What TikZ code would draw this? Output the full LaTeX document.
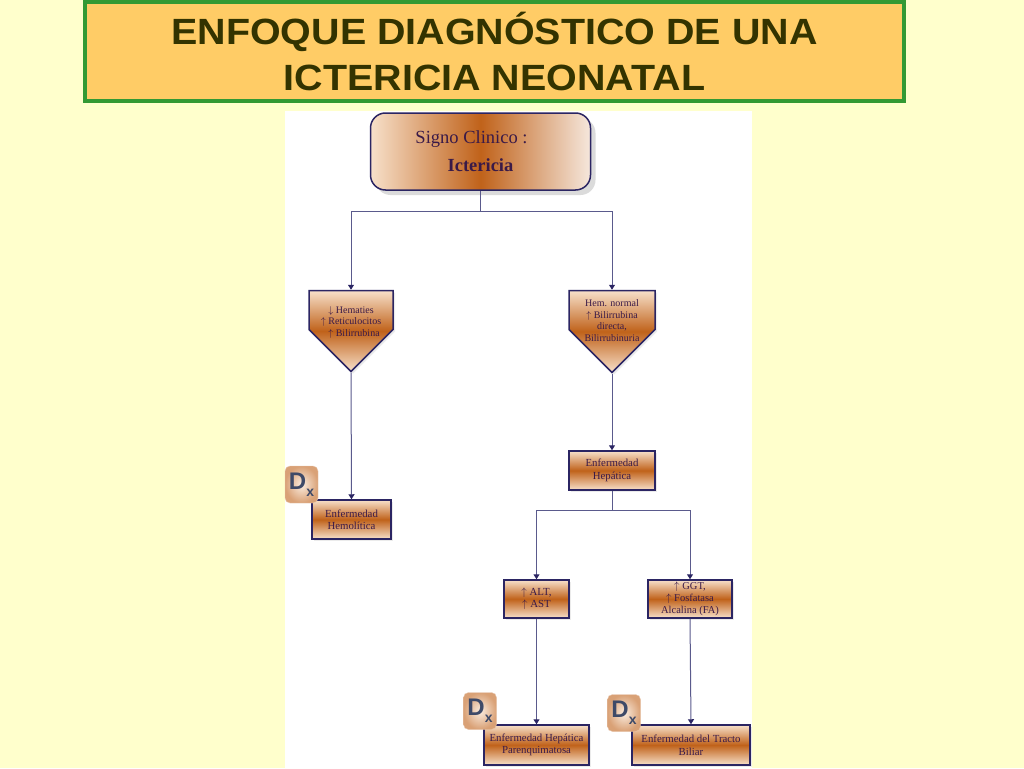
\documentclass[tikz,border=0pt]{standalone}
\usepackage{fontspec}
\setmainfont{Liberation Serif}
\newfontfamily\titlefont[FakeStretch=1.08]{Liberation Sans}
\newfontfamily\dxfont{Liberation Sans}
\usetikzlibrary{shapes.symbols,arrows.meta,shadows}

\definecolor{fondo}{HTML}{FFFFCC}
\definecolor{marco}{HTML}{339933}
\definecolor{titulo}{HTML}{FFCC66}
\definecolor{letra}{HTML}{333300}
\definecolor{borde}{HTML}{2B2563}
\definecolor{linea}{HTML}{5A5A8C}
\definecolor{cafe}{HTML}{C0621A}
\definecolor{claro}{HTML}{F7E0CA}
\definecolor{texto}{HTML}{3A1A48}
\definecolor{dxletra}{HTML}{3E4A68}

\begin{document}
\begin{tikzpicture}[x=1pt,y=-1pt,
    conector/.style={draw=linea, line width=1pt},
    flecha/.style={conector, -{Triangle[length=5pt,width=6pt,color=borde]}},
    caja/.style={draw=borde, line width=1.5pt, top color=claro, bottom color=claro,
        middle color=cafe, minimum height=39, inner sep=1pt, align=center,
        text=texto, font=\fontsize{10.8}{12.5}\selectfont,
        drop shadow={shadow xshift=2pt, shadow yshift=-2pt, fill=gray!30}},
    pentagono/.style={caja, shape=signal, signal to=south, signal pointer angle=90,
        minimum height=40},
    dxicono/.style={rounded corners=5pt, inner color=claro!60!white, outer color=cafe!60!white,
        draw=cafe!35!white, minimum width=33, minimum height=37, inner sep=0pt,
        font=\dxfont\bfseries, text=dxletra}]

    % 背景
    \fill[fondo] (0,0) rectangle (1024,768);
    \fill[white] (285,111) rectangle (752,768);

    % 标题
    \node[draw=marco, line width=4pt, fill=titulo, minimum width=819, minimum height=99,
        align=center, text=letra, font=\titlefont\bfseries\fontsize{36.5}{46}\selectfont]
        (titulo) at (494.5,51.5) {ENFOQUE DIAGNÓSTICO DE UNA\\ICTERICIA NEONATAL};

    % 顶部方框
    \node[draw=borde, line width=1.5pt, rounded corners=15pt, minimum width=220, minimum height=77,
        left color=claro, right color=white!85!cafe, middle color=cafe,
        drop shadow={shadow xshift=5pt, shadow yshift=-5pt, fill=gray!55},
        align=center, text=texto, font=\fontsize{18.5}{28}\selectfont]
        (signo) at (480.5,151.5) {\hspace*{-18pt}Signo Clinico :\\ \textbf{Ictericia}};

    % 五边形
    \node[pentagono, minimum width=84] (hema) at (351,310) {};
    \node[text=texto, align=center, font=\fontsize{10}{11.5}\selectfont] (hematxt) at (351,322)
        {$\downarrow$ Hematies\\$\uparrow$ Reticulocitos\\\hspace*{6pt}$\uparrow$ Bilirrubina};
    \node[pentagono, minimum width=86] (hemn) at (612,310) {};
    \node[text=texto, align=center, font=\fontsize{10}{11.5}\selectfont] (hemntxt) at (612,320.5)
        {Hem. normal\\$\uparrow$ Bilirrubina\\directa,\\Bilirrubinuria};

    % 方框
    \node[caja, minimum width=79] (hemo) at (351.5,519.5) {Enfermedad\\Hemolítica};
    \node[caja, minimum width=86] (hepa) at (612,470.5) {Enfermedad\\Hepática};
    \node[caja, minimum width=65, minimum height=38] (alt) at (536.5,599) {$\uparrow$ ALT,\\$\uparrow$ AST};
    \node[caja, minimum width=84, minimum height=38, font=\fontsize{10.5}{11.8}\selectfont]
        (ggt) at (690,599) {$\uparrow$ GGT,\\$\uparrow$ Fosfatasa\\Alcalina (FA)};
    \node[caja, minimum width=105, minimum height=40] (paren) at (536.5,745)
        {Enfermedad Hepática\\Parenquimatosa};
    \node[caja, minimum width=118, minimum height=40] (biliar) at (691,745)
        {Enfermedad del Tracto\\Biliar};

    % 连线
    \coordinate (r1) at (480.5,211);
    \coordinate (r2) at (612,510);
    \draw[conector] (signo.south) -- (r1);
    \draw[flecha] (r1) -| (hema.north);
    \draw[flecha] (r1) -| (hemn.north);
    \draw[flecha] (hema.south) -- (hemo.north);
    \draw[flecha] (hemn.south) -- (hepa.north);
    \draw[conector] (hepa.south) -- (r2);
    \draw[flecha] (r2) -| (alt.north);
    \draw[flecha] (r2) -| (ggt.north);
    \draw[flecha] (alt.south) -- (paren.north);
    \draw[flecha] (ggt.south) -- (biliar.north);

    % Dx 图标
    \node[dxicono] (dx1) at (301.5,484.5) {\fontsize{24}{24}\selectfont D\raisebox{-7pt}{\fontsize{14}{14}\selectfont x}};
    \node[dxicono] (dx2) at (480,711) {\fontsize{24}{24}\selectfont D\raisebox{-7pt}{\fontsize{14}{14}\selectfont x}};
    \node[dxicono] (dx3) at (624,713) {\fontsize{24}{24}\selectfont D\raisebox{-7pt}{\fontsize{14}{14}\selectfont x}};
\end{tikzpicture}
\end{document}
